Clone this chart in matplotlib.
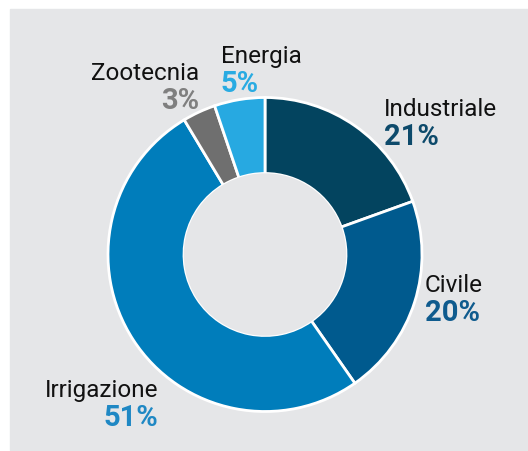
import matplotlib.pyplot as plt
from matplotlib.patches import Rectangle, Circle

# dati (ampiezze degli spicchi, etichette come stampate)
settori = ['Industriale', 'Civile', 'Irrigazione', 'Zootecnia', 'Energia']
quote = [19.5, 20.8, 51.1, 3.4, 5.2]
etichette = ['21%', '20%', '51%', '3%', '5%']
colori = ['#03445f', '#005a8e', '#007dbb', '#6f6f6f', '#27a9e1']
colori_pct = ['#0d4a6b', '#0f5b8e', '#1f88c4', '#7f7f7f', '#29abe2']

# posizioni delle etichette (pixel) e allineamento
pos = [(384, 109, 'left'), (425, 285, 'left'), (158, 390, 'right'),
       (199, 73, 'right'), (221, 56, 'left')]

W, H = 528, 451
sfondo = '#e5e6e8'
fig = plt.figure(figsize=(W / 100, H / 100), dpi=100)
ax = fig.add_axes([0, 0, 1, 1])
ax.axis('off')

# sfondo grigio
ax.add_patch(Rectangle((10, 1), W - 10, H - 10, color=sfondo, zorder=0))

cx, cy = 265, H - 254.5
ax.pie(quote, colors=colori, center=(cx, cy), radius=157,
       startangle=90, counterclock=False,
       wedgeprops=dict(width=76, edgecolor='white', linewidth=2))
ax.add_patch(Circle((cx, cy), 80.5, color=sfondo, zorder=3))
ax.set_xlim(0, W)
ax.set_ylim(0, H)
ax.set_aspect('equal')

for s, e, c, (x, y, ha) in zip(settori, etichette, colori_pct, pos):
    ax.text(x, H - y, s, ha=ha, va='center', fontsize=17.5,
            family='Roboto', color='#111111')
    ax.text(x, H - y - 28, e, ha=ha, va='center', fontsize=21,
            family='Roboto', fontweight='bold', color=c)

fig.savefig('out.png', dpi=100)
